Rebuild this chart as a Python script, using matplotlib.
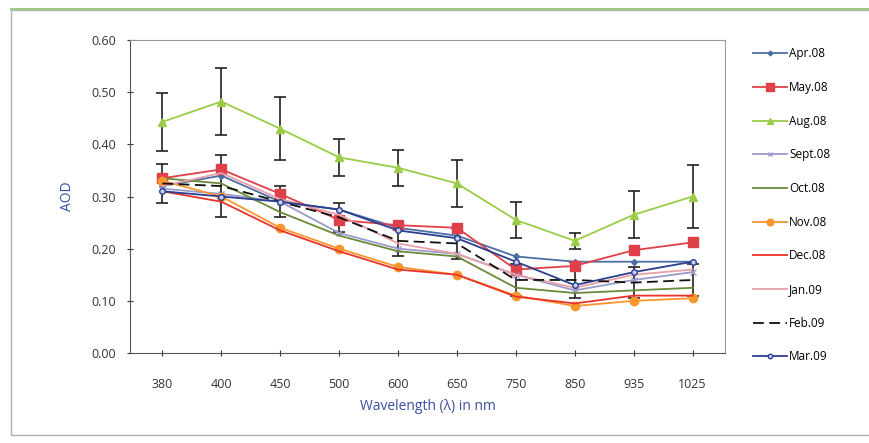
import numpy as np
import matplotlib
matplotlib.use("Agg")
import matplotlib.pyplot as plt
from matplotlib.patches import Rectangle

plt.rcParams['font.family'] = ['Open Sans', 'DejaVu Sans']

wavelengths = ["380", "400", "450", "500", "600", "650", "750", "850", "935", "1025"]

apr08 = [0.320, 0.340, 0.290, 0.275, 0.240, 0.225, 0.185, 0.175, 0.175, 0.175]
may08 = [0.335, 0.352, 0.305, 0.255, 0.245, 0.240, 0.160, 0.167, 0.197, 0.212]
aug08 = [0.443, 0.482, 0.430, 0.375, 0.355, 0.325, 0.255, 0.215, 0.265, 0.300]
sep08 = [0.315, 0.305, 0.290, 0.230, 0.200, 0.190, 0.150, 0.120, 0.140, 0.155]
oct08 = [0.335, 0.325, 0.270, 0.225, 0.195, 0.185, 0.125, 0.115, 0.120, 0.125]
nov08 = [0.330, 0.300, 0.240, 0.200, 0.165, 0.150, 0.110, 0.090, 0.100, 0.105]
dec08 = [0.310, 0.290, 0.235, 0.195, 0.160, 0.150, 0.108, 0.095, 0.110, 0.110]
jan09 = [0.320, 0.345, 0.295, 0.265, 0.210, 0.190, 0.150, 0.125, 0.150, 0.160]
feb09 = [0.325, 0.320, 0.290, 0.260, 0.215, 0.210, 0.140, 0.140, 0.135, 0.140]
mar09 = [0.310, 0.300, 0.290, 0.275, 0.235, 0.220, 0.175, 0.130, 0.155, 0.175]

aug08_err = [0.055, 0.065, 0.060, 0.035, 0.035, 0.045, 0.035, 0.015, 0.045, 0.060]
feb09_err = [0.038, 0.060, 0.030, 0.028, 0.030, 0.030, 0.030, 0.035, 0.030, 0.030]

labels = ["Apr.08", "May.08", "Aug.08", "Sept.08", "Oct.08",
          "Nov.08", "Dec.08", "Jan.09", "Feb.09", "Mar.09"]
series = [apr08, may08, aug08, sep08, oct08, nov08, dec08, jan09, feb09, mar09]
styles = [
    dict(color="#4a6fa5", marker="D", ms=3, ls="-"),
    dict(color="#e0404a", marker="s", ms=7, ls="-"),
    dict(color="#9acd45", marker="^", ms=6, ls="-"),
    dict(color="#9a9acb", marker="x", ms=4, ls="-"),
    dict(color="#6b8a3a", marker="", ms=0, ls="-"),
    dict(color="#f7962d", marker="o", ms=6, ls="-"),
    dict(color="#e8332a", marker="", ms=0, ls="-"),
    dict(color="#e8a0a8", marker="", ms=0, ls="-"),
    dict(color="#111111", marker="", ms=0, ls=(0, (6, 3))),
    dict(color="#2a3f8f", marker="o", ms=4, ls="-", mfc="#c8d0f0"),
]

fig = plt.figure(figsize=(8.69, 4.43), dpi=100)
fig.patch.set_facecolor("white")
# outer chart frame
fig.add_artist(Rectangle((11 / 869, 8 / 443), 860 / 869, 425 / 443,
                         transform=fig.transFigure, fill=False,
                         edgecolor="#b0b0b0", lw=1.0))
fig.add_artist(plt.Line2D([11 / 869, 1.0], [1 - 9 / 443, 1 - 9 / 443],
                          transform=fig.transFigure, color="#9ccc80", lw=1.5))

ax = fig.add_axes([130 / 869, 1 - 353 / 443, 595 / 869, 313 / 443])
x = np.arange(len(wavelengths))

for lab, vals, st in zip(labels, series, styles):
    kw = dict(color=st["color"], ls=st["ls"], lw=1.3, marker=st["marker"] or None,
              ms=st["ms"], label=lab)
    if "mfc" in st:
        kw["mfc"] = st["mfc"]
    ax.plot(x, vals, **kw)

ax.errorbar(x, aug08, yerr=aug08_err, fmt="none", ecolor="#222222",
            elinewidth=1.2, capsize=4, capthick=1.2, zorder=1)
ax.errorbar(x, feb09, yerr=feb09_err, fmt="none", ecolor="#222222",
            elinewidth=1.2, capsize=4, capthick=1.2, zorder=1)

ax.set_xlim(-0.55, len(wavelengths) - 0.45)
ax.set_ylim(0, 0.60)
ax.set_yticks(np.arange(0, 0.61, 0.10))
ax.set_yticklabels([f"{v:.2f}" for v in np.arange(0, 0.61, 0.10)])
ax.set_xticks(x)
ax.set_xticklabels(wavelengths)
ax.tick_params(axis="both", labelsize=9, colors="#333333", length=4,
               direction="inout")
ax.tick_params(axis="x", pad=16)
ax.tick_params(axis="y", pad=8)
for side in ["top", "right"]:
    ax.spines[side].set_color("#999999")
for side in ["left", "bottom"]:
    ax.spines[side].set_color("#555555")

ax.set_ylabel("AOD", color="#3050b0", fontsize=10, labelpad=12)
ax.set_xlabel("Wavelength (λ) in nm", color="#3a4fa0", fontsize=10, labelpad=6)

leg = ax.legend(loc="upper left", bbox_to_anchor=(1.03, 1.01), frameon=False,
                fontsize=8.5, handlelength=2.8, labelspacing=1.75,
                handletextpad=0.2, markerscale=0.8)

fig.savefig("out.png", dpi=100)
